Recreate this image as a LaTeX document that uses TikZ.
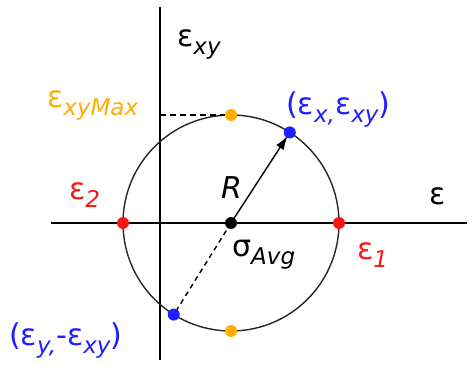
\documentclass[tikz,border=0pt]{standalone}
\usepackage{fontspec}
\setmainfont{DejaVu Sans}
\usetikzlibrary{arrows.meta,calc}
\definecolor{mred}{RGB}{255,20,20}
\definecolor{mblue}{RGB}{30,30,255}
\definecolor{morange}{RGB}{255,175,0}
\newcommand{\lo}[1]{\raisebox{-8pt}{\fontsize{23}{23}\selectfont\itshape #1}}
\tikzset{
  axis/.style={line width=2pt, black},
  dot/.style={circle, fill=#1, inner sep=0pt, minimum size=12pt},
  lbl/.style={anchor=base west, inner sep=0pt, font=\fontsize{30}{30}\selectfont},
}
\begin{document}
\begin{tikzpicture}[x=1pt,y=-1pt]
\useasboundingbox (0,0) rectangle (474,366);
% axes
\coordinate (vtop) at (160,7);
\coordinate (vbot) at (160,360);
\coordinate (hl) at (51,223);
\coordinate (hr) at (467,223);
\draw[axis] (vtop) -- (vbot);
\draw[axis] (hl) -- (hr);
% circle
\coordinate (c) at (231,223);
\draw[line width=1.4pt, black!85] (c) circle [radius=108pt];
% key points
\coordinate (pA) at ($(c)+(57:108pt)$);
\coordinate (pB) at ($(c)+(238:108pt)$);
\coordinate (pTop) at ($(c)+(90:108pt)$);
\coordinate (pBot) at ($(c)+(270:108pt)$);
\coordinate (pL) at ($(c)+(180:108pt)$);
\coordinate (pR) at ($(c)+(0:108pt)$);
\coordinate (yMax) at (vtop |- pTop);
% dashed lines
\draw[line width=1.6pt, dash pattern=on 6pt off 4pt] (yMax) -- (pTop);
\draw[line width=1.4pt, dash pattern=on 5pt off 4pt] (c) -- (pB);
% radius arrow
\draw[line width=1.4pt, -{Latex[length=14pt,width=9pt]}, shorten >=4pt] (c) -- (pA);
% dots
\node[dot=black] (dc) at (c) {};
\node[dot=mred] (d1) at (pR) {};
\node[dot=mred] (d2) at (pL) {};
\node[dot=morange] (dt) at (pTop) {};
\node[dot=morange] (db) at (pBot) {};
\node[dot=mblue] (da) at (pA) {};
\node[dot=mblue] (dbb) at (pB) {};
% labels
\node[lbl] (lxy) at (177,47) {ε\lo{xy}};
\node[lbl, text=morange] (lmax) at (47,108) {ε\lo{xyMax}};
\node[lbl, text=mblue] (lA) at (286,115) {(ε\lo{x,}ε\lo{xy})};
\node[lbl, text=mred] (l2) at (69,200) {ε\lo{2}};
\node[lbl] (le) at (429,205) {ε};
\node[lbl] (lR) at (221,199) {\itshape R};
\node[lbl] (lavg) at (232,257) {σ\lo{Avg}};
\node[lbl, text=mred] (l1) at (357,260) {ε\lo{1}};
\node[lbl, text=mblue] (lB) at (9,345) {(ε\lo{y,}-ε\lo{xy})};
\end{tikzpicture}
\end{document}
